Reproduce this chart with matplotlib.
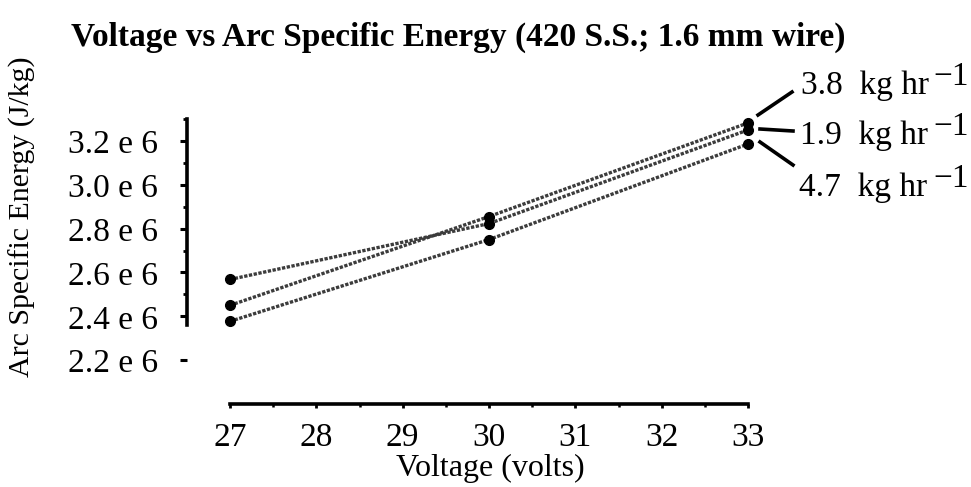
import matplotlib
matplotlib.use("Agg")
import matplotlib.pyplot as plt
import matplotlib.transforms as mtransforms
from matplotlib.ticker import FixedLocator, FuncFormatter
from matplotlib.lines import Line2D

plt.rcParams['font.family'] = ['Liberation Serif', 'DejaVu Serif']

# ---- data ----
voltage = [27, 30, 33]
rate_labels = ["3.8", "1.9", "4.7"]
energy_38 = [2.450e6, 2.855e6, 3.282e6]
energy_19 = [2.568e6, 2.823e6, 3.250e6]
energy_47 = [2.377e6, 2.750e6, 3.186e6]
series = [energy_38, energy_19, energy_47]
y_major = [2.2e6, 2.4e6, 2.6e6, 2.8e6, 3.0e6, 3.2e6]
y_minor = [2.5e6, 2.7e6, 2.9e6, 3.1e6, 3.3e6]
x_major = [27, 28, 29, 30, 31, 32, 33]
x_minor = [27.5, 28.5, 29.5, 30.5, 31.5, 32.5]

W, H = 971, 487
fig = plt.figure(figsize=(W / 100, H / 100), dpi=100)

def fx(px):
    return px / W

def fy(py):
    return 1 - py / H

ax = fig.add_axes([fx(230), fy(404), (748 - 230) / W, (404 - 119) / H])
ax.set_xlim(27, 33)
ax.set_ylim(2.0e6, 3.3e6)

line_color = '#3c3c3c'
for ys in series:
    ax.plot(voltage, ys, color=line_color, lw=2.4, linestyle=(0, (1.0, 0.45)),
            marker='o', markersize=7, markerfacecolor='black',
            markeredgecolor='black', clip_on=False, zorder=3)

for s in ['top', 'right']:
    ax.spines[s].set_visible(False)
ax.spines['left'].set_position(('outward', 31))
ax.spines['left'].set_bounds(2.36e6, 3.3e6)
ax.spines['bottom'].set_bounds(27, 33)
for s in ['left', 'bottom']:
    ax.spines[s].set_linewidth(2.6)

ax.yaxis.set_major_locator(FixedLocator(y_major))
ax.yaxis.set_minor_locator(FixedLocator(y_minor))
ax.yaxis.set_major_formatter(FuncFormatter(lambda v, p: f"{v / 1e6:.1f} e 6"))
ax.xaxis.set_major_locator(FixedLocator(x_major))
ax.xaxis.set_minor_locator(FixedLocator(x_minor))

ax.tick_params(axis='y', which='major', length=5, width=2.2, pad=16, labelsize=24)
ax.tick_params(axis='y', which='minor', length=3, width=2.0)
ax.tick_params(axis='x', which='major', length=3, width=2.0, pad=10, labelsize=24)
ax.tick_params(axis='x', which='minor', length=2.5, width=1.8)
shift = mtransforms.ScaledTranslation(0, -4 / 100, fig.dpi_scale_trans)
for lbl in ax.get_yticklabels():
    lbl.set_verticalalignment('center')
    lbl.set_transform(lbl.get_transform() + shift)

fig.text(fx(458), fy(37), "Voltage vs Arc Specific Energy (420 S.S.; 1.6 mm wire)",
         ha='center', va='center', fontsize=24, fontweight='bold')
fig.text(fx(490), fy(468), "Voltage (volts)", ha='center', va='center', fontsize=23)
fig.text(fx(22), fy(217), "Arc Specific Energy (J/kg)", ha='center', va='center',
         rotation=90, fontsize=21.5)

# labels with leader lines
leaders = [((758, 115), (792, 92)), ((760, 129), (793, 131)), ((760, 142), (793, 165))]
label_base = [94, 144, 196]
label_x = [801, 800, 799]
for lab, (p0, p1), yb, xl in zip(rate_labels, leaders, label_base, label_x):
    fig.add_artist(Line2D([fx(p0[0]), fx(p1[0])], [fy(p0[1]), fy(p1[1])],
                          color='black', lw=2.6, transform=fig.transFigure))
    fig.text(fx(xl), fy(yb), f"{lab}  kg hr", ha='left', va='baseline', fontsize=24)
    fig.text(fx(933), fy(yb - 9), "\u22121", ha='left', va='baseline', fontsize=24)

fig.savefig("out.png", dpi=100)
